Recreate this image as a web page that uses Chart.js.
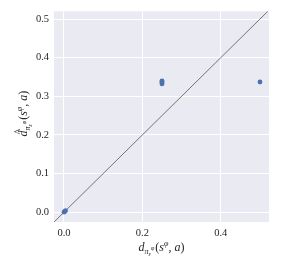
<!DOCTYPE html>
<html>
<head>
<meta charset="utf-8">
<script src="https://cdn.jsdelivr.net/npm/chart.js@4"></script>
<style>
  html, body { margin: 0; padding: 0; background: #fff; }
  #wrap { width: 297px; height: 264px; }
</style>
</head>
<body>
<div id="wrap"><canvas id="c" width="297" height="264"></canvas></div>
<script>
// true distance vs estimated distance
const trueD = [0, 0.002, 0.004, 0.25, 0.25, 0.25, 0.25, 0.5];
const estD = [0, 0.002, 0.004, 0.332, 0.335, 0.338, 0.340, 0.337];
const refLine = [-0.025, 0.52];
const xTicks = [0, 0.2, 0.4];
const yTicks = [0, 0.1, 0.2, 0.3, 0.4, 0.5];

const serif = "'Liberation Serif', 'DejaVu Serif', serif";
const tickFont = { family: serif, size: 10.5 };

function drawRuns(ctx, runs, cx, cy) {
  let w = 0;
  for (const r of runs) {
    ctx.font = `${r.it ? "italic " : ""}${r.size}px ${serif}`;
    r.w = ctx.measureText(r.t).width;
    w += r.w + (r.gap || 0);
  }
  let x = cx - w / 2;
  for (const r of runs) {
    ctx.font = `${r.it ? "italic " : ""}${r.size}px ${serif}`;
    ctx.fillText(r.t, x, cy + (r.dy || 0));
    if (r.hat) {
      ctx.fillText("^", x + r.w * 0.3, cy - 5);
    }
    x += r.w + (r.gap || 0);
  }
}

function labelRuns(hat) {
  return [
    { t: "d", size: 12, it: true, hat: hat },
    { t: "π", size: 8, it: true, dy: 3 },
    { t: "ε", size: 6, it: true, dy: 5 },
    { t: "φ", size: 6, it: true, dy: -1, gap: 1 },
    { t: "(", size: 12 },
    { t: "s", size: 12, it: true },
    { t: "φ", size: 8, it: true, dy: -5 },
    { t: ", ", size: 12 },
    { t: "a", size: 12, it: true },
    { t: ")", size: 12 },
  ];
}

const axisLabels = {
  id: "axisLabels",
  afterDraw(chart) {
    const ctx = chart.ctx;
    const a = chart.chartArea;
    ctx.save();
    ctx.fillStyle = "#262626";
    ctx.textBaseline = "alphabetic";
    drawRuns(ctx, labelRuns(false), (a.left + a.right) / 2, 251);
    ctx.translate(27, (a.top + a.bottom) / 2 - 3);
    ctx.rotate(-Math.PI / 2);
    drawRuns(ctx, labelRuns(true), 0, 0);
    ctx.restore();
  },
};

const bg = {
  id: "bg",
  beforeDraw(chart) {
    const a = chart.chartArea;
    chart.ctx.save();
    chart.ctx.fillStyle = "#EAEAF2";
    chart.ctx.fillRect(a.left, a.top, a.right - a.left, a.bottom - a.top);
    chart.ctx.restore();
  },
};

new Chart(document.getElementById("c"), {
  type: "scatter",
  data: {
    datasets: [
      {
        data: trueD.map((x, i) => ({ x: x, y: estD[i] })),
        backgroundColor: "#4C72B0",
        borderColor: "#4C72B0",
        pointRadius: 2.4,
        borderWidth: 0,
        order: 1,
      },
      {
        type: "line",
        data: refLine.map((v) => ({ x: v, y: v })),
        borderColor: "#555555",
        borderWidth: 0.8,
        pointRadius: 0,
        fill: false,
        order: 2,
      },
    ],
  },
  options: {
    responsive: false,
    animation: false,
    layout: { padding: { top: 7, right: 28, left: 0, bottom: 0 } },
    plugins: { legend: { display: false }, tooltip: { enabled: false } },
    scales: {
      x: {
        type: "linear",
        min: -0.0255,
        max: 0.523,
        afterBuildTicks: (s) => { s.ticks = xTicks.map((v) => ({ value: v })); },
        afterFit: (s) => { s.height = 42; },
        ticks: { font: tickFont, color: "#262626", padding: 5, callback: (v) => v.toFixed(1) },
        grid: { color: "#ffffff", lineWidth: 1, drawTicks: false },
        border: { display: false },
      },
      y: {
        type: "linear",
        min: -0.0254,
        max: 0.52,
        afterBuildTicks: (s) => { s.ticks = yTicks.map((v) => ({ value: v })); },
        afterFit: (s) => { s.width = 54; },
        ticks: { font: tickFont, color: "#262626", padding: 5, callback: (v) => v.toFixed(1) },
        grid: { color: "#ffffff", lineWidth: 1, drawTicks: false },
        border: { display: false },
      },
    },
  },
  plugins: [bg, axisLabels],
});
</script>
</body>
</html>
